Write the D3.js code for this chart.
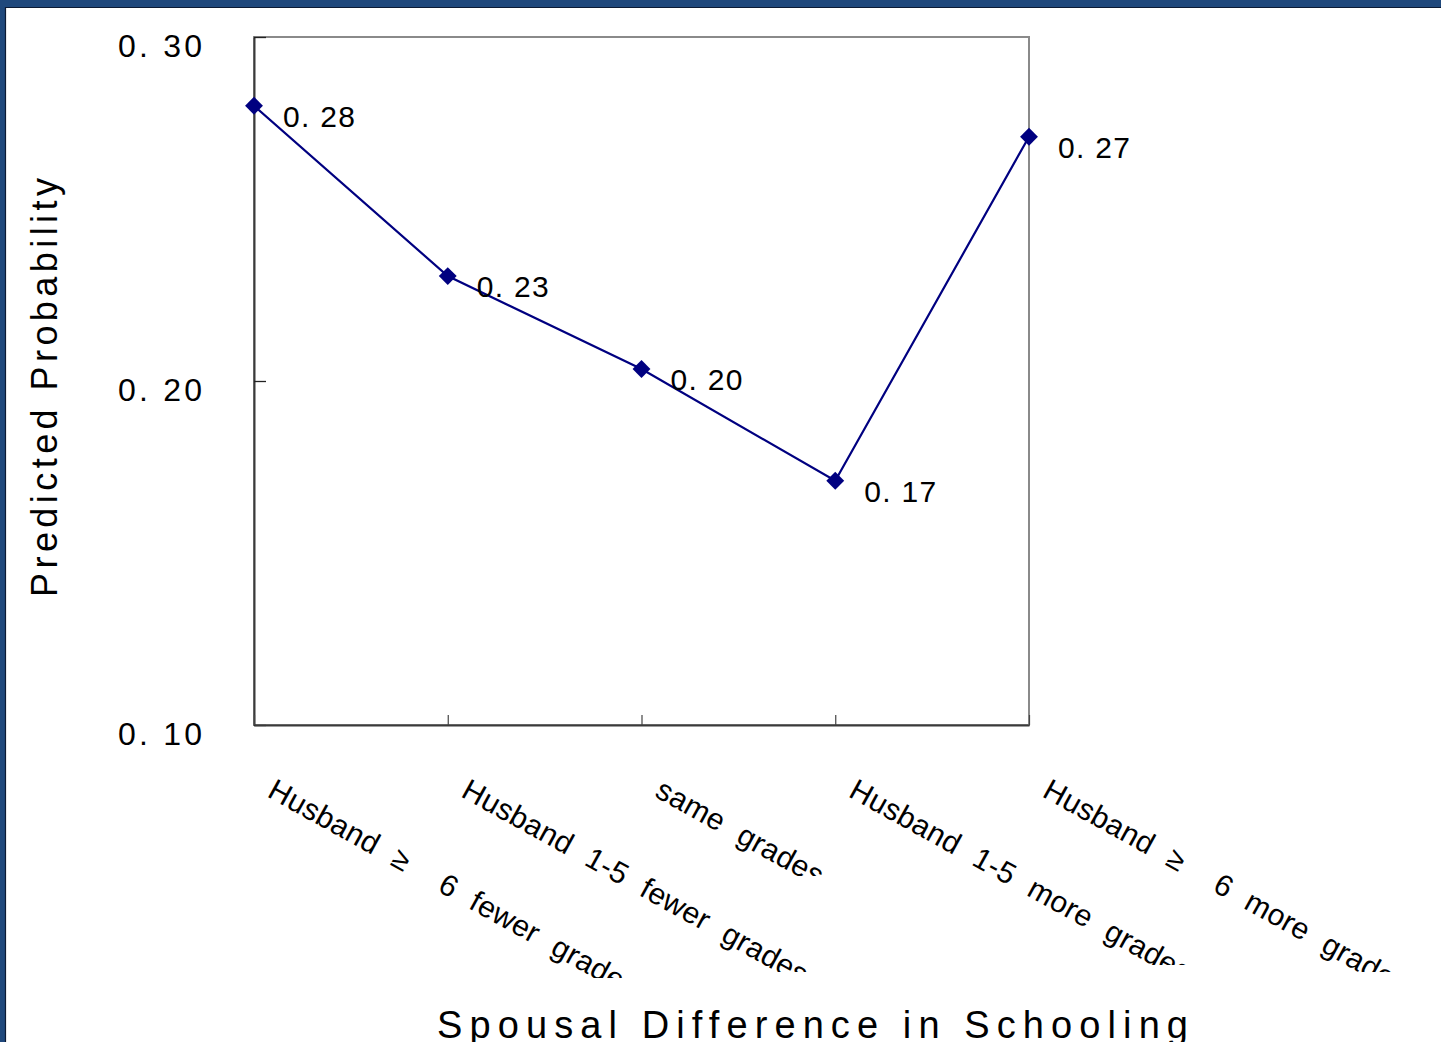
<!DOCTYPE html>
<html>
<head>
<meta charset="utf-8">
<script src="https://cdn.jsdelivr.net/npm/d3@7"></script>
<style>
  html, body { margin: 0; padding: 0; background: #ffffff; }
  svg { display: block; }
  text { font-family: "Liberation Sans", Arial, sans-serif; fill: #000; white-space: pre; }
</style>
</head>
<body>
<svg id="chart" width="1441" height="1042"></svg>
<script>
// Categories of spousal schooling difference
const categories = [
  "Husband \u2265  6 fewer grades",
  "Husband 1-5 fewer grades",
  "same grades",
  "Husband 1-5 more grades",
  "Husband \u2265  6 more grades"
];
// Predicted probability for each category
const probabilities = [0.280, 0.2305, 0.2035, 0.171, 0.271];
// Y axis ticks
const yTicks = [0.10, 0.20, 0.30];
const yTitle = "Predicted Probability";
const xTitle = "Spousal Difference in Schooling";

// Layout
const W = 1441, H = 1042;
const plot = { left: 254, right: 1029, top: 37, bottom: 725 };
const labelCut = [253, 247, 151, 240, 247]; // visible depth of each category label below the axis

const svg = d3.select("#chart");

// Slide frame: dark blue band on top and left
svg.append("rect").attr("x", 0).attr("y", 0).attr("width", W).attr("height", H).attr("fill", "#ffffff");
svg.append("rect").attr("x", 0).attr("y", 0).attr("width", W).attr("height", 7).attr("fill", "#1F487C");
svg.append("rect").attr("x", 0).attr("y", 0).attr("width", 5).attr("height", H).attr("fill", "#1F487C");
svg.append("line").attr("x1", 5).attr("x2", W).attr("y1", 7.5).attr("y2", 7.5).attr("stroke", "#0b1a33").attr("stroke-width", 1.2);
svg.append("line").attr("x1", 5.5).attr("x2", 5.5).attr("y1", 7).attr("y2", H).attr("stroke", "#0b1a33").attr("stroke-width", 1.2);

const x = d3.scalePoint().domain(categories).range([plot.left, plot.right]).padding(0);
const y = d3.scaleLinear().domain([0.10, 0.30]).range([plot.bottom, plot.top]);

// Plot border (top/right lighter gray)
svg.append("rect")
  .attr("x", plot.left).attr("y", plot.top)
  .attr("width", plot.right - plot.left).attr("height", plot.bottom - plot.top)
  .attr("fill", "none").attr("stroke", "#8a8a8a").attr("stroke-width", 2);

// Y axis with inward ticks
const yAxis = svg.append("g")
  .attr("transform", `translate(${plot.left},0)`)
  .call(d3.axisLeft(y).tickValues(yTicks).tickSizeInner(-12).tickSizeOuter(0).tickFormat(""));
yAxis.select(".domain").attr("stroke", "#3a3a3a").attr("stroke-width", 2);
yAxis.selectAll(".tick line").attr("stroke", "#222").attr("stroke-width", 1.3);

// Y tick labels (sit just below each tick)
svg.append("g").selectAll("text").data(yTicks).join("text")
  .attr("x", 202).attr("y", d => y(d) + 20)
  .attr("text-anchor", "end")
  .attr("font-size", 32)
  .attr("textLength", 84).attr("lengthAdjust", "spacing")
  .text(d => d3.format(".2f")(d).replace(".", ". "));

// X axis with inward ticks
const xAxis = svg.append("g")
  .attr("transform", `translate(0,${plot.bottom})`)
  .call(d3.axisBottom(x).tickSizeInner(-10).tickSizeOuter(0).tickFormat(""));
xAxis.select(".domain").attr("stroke", "#3a3a3a").attr("stroke-width", 2);
xAxis.selectAll(".tick line").attr("stroke", "#444").attr("stroke-width", 1.2);

// Category labels, rotated and clipped
const defs = svg.append("defs");
categories.forEach((c, i) => {
  defs.append("clipPath").attr("id", "cut" + i)
    .append("rect").attr("x", 0).attr("y", 0).attr("width", W).attr("height", plot.bottom + labelCut[i]);
});
const catG = svg.append("g");
categories.forEach((c, i) => {
  catG.append("g").attr("clip-path", `url(#cut${i})`)
    .append("text")
    .attr("transform", `translate(${x(c) + 12},${plot.bottom + 71}) rotate(29)`)
    .attr("font-size", 30)
    .attr("letter-spacing", 0.3)
    .attr("word-spacing", 10)
    .text(c);
});

// Series line
svg.append("path")
  .datum(probabilities)
  .attr("fill", "none")
  .attr("stroke", "#000080")
  .attr("stroke-width", 2.2)
  .attr("d", d3.line().x((d, i) => x(categories[i])).y(d => y(d)));

// Diamond markers
svg.append("g").selectAll("path").data(probabilities).join("path")
  .attr("d", d3.symbol().type(d3.symbolSquare).size(160)())
  .attr("fill", "#000080")
  .attr("transform", (d, i) => `translate(${x(categories[i])},${y(d)}) rotate(45)`);

// Data labels
svg.append("g").selectAll("text").data(probabilities).join("text")
  .attr("x", (d, i) => x(categories[i]) + 29)
  .attr("y", d => y(d) + 21)
  .attr("font-size", 30)
  .attr("textLength", 72).attr("lengthAdjust", "spacing")
  .text(d => d3.format(".2f")(d).replace(".", ". "));

// Axis titles
svg.append("text")
  .attr("transform", `translate(57,${(178 + 597) / 2}) rotate(-90)`)
  .attr("text-anchor", "middle")
  .attr("font-size", 36)
  .attr("textLength", 419).attr("lengthAdjust", "spacing")
  .text(yTitle);

svg.append("text")
  .attr("x", (437 + 1188) / 2).attr("y", 1038)
  .attr("text-anchor", "middle")
  .attr("font-size", 38)
  .attr("textLength", 751).attr("lengthAdjust", "spacing")
  .text(xTitle);
</script>
</body>
</html>
